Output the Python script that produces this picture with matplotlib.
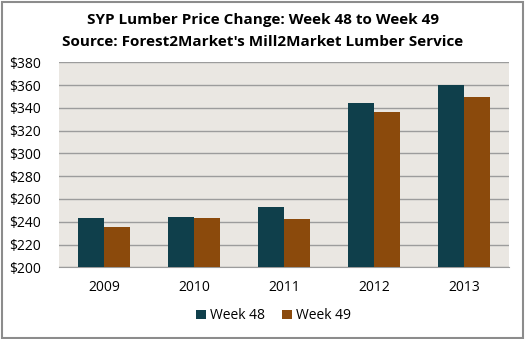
import matplotlib
matplotlib.use("Agg")
import matplotlib.pyplot as plt
import numpy as np
from matplotlib.patches import Rectangle

years = ["2009", "2010", "2011", "2012", "2013"]
week48 = [243, 244, 253, 344.5, 360]
week49 = [235, 243, 242, 336, 349.5]
yticks = [200, 220, 240, 260, 280, 300, 320, 340, 360, 380]

plt.rcParams['font.family'] = ['Open Sans', 'DejaVu Sans']

fig = plt.figure(figsize=(5.26, 3.39), dpi=100)
fig.patch.set_facecolor('white')
ax = fig.add_axes([0.1128, 0.2115, 0.8555, 0.6047])
ax.set_facecolor('#EAE7E2')

x = np.arange(len(years))
w = 0.289
ax.bar(x - w/2, week48, width=w, color='#0F3F4B', label='Week 48', zorder=3)
ax.bar(x + w/2, week49, width=w, color='#8B4A0C', label='Week 49', zorder=3)

ax.set_xlim(-0.5, len(years) - 0.5)
ax.set_ylim(200, 380)
ax.set_yticks(yticks)
ax.set_yticklabels([f"${v}" for v in yticks], fontsize=10)
ax.set_xticks(x)
ax.set_xticklabels(years, fontsize=10)
ax.tick_params(axis='y', length=0, pad=13)
ax.tick_params(axis='x', length=0, pad=9)
ax.yaxis.grid(True, color='#9C9C9C', linewidth=1.0, zorder=1)
for s in ['top', 'right', 'left']:
    ax.spines[s].set_visible(False)
ax.spines['bottom'].set_color('#9C9C9C')

fig.text(0.5, 0.942, "SYP Lumber Price Change: Week 48 to Week 49", ha='center', va='center',
         fontsize=11, fontweight='bold')
fig.text(0.5, 0.876, "Source: Forest2Market's Mill2Market Lumber Service", ha='center', va='center',
         fontsize=11, fontweight='bold')

fig.legend(loc='center', bbox_to_anchor=(0.52, 0.068), ncol=2, frameon=False, fontsize=10,
           handlelength=0.7, handleheight=0.7, handletextpad=0.3, columnspacing=1.2)

fig.patches.append(Rectangle((0.003, 0.004), 0.991, 0.99, transform=fig.transFigure,
                             fill=False, edgecolor='#8C8C8C', linewidth=1.5))

fig.savefig("out.png", dpi=100)
